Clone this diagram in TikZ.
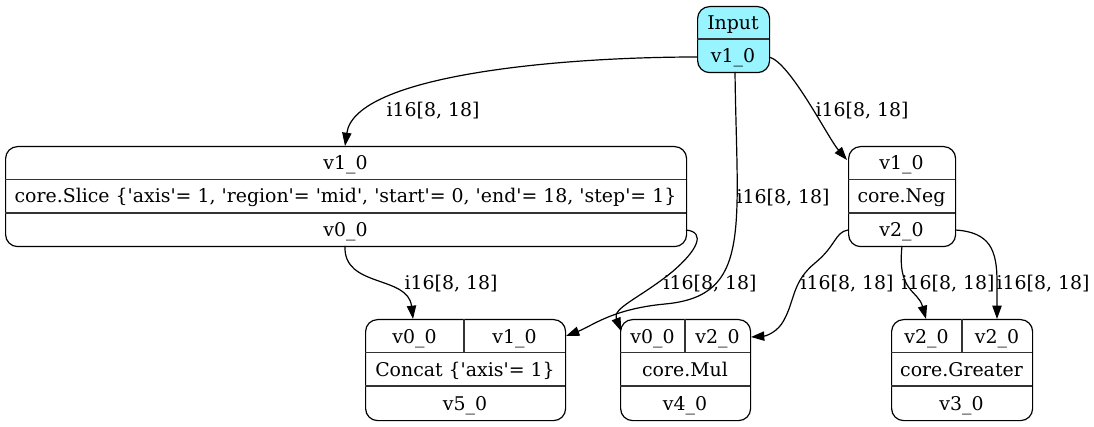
\documentclass[tikz,border=0pt]{standalone}
\usepackage{fontspec}
% a family without TeX ligatures, so that ' stays a straight quote
\newfontfamily\graphfont{DejaVu Serif}
\usetikzlibrary{arrows.meta}
\definecolor{inputfill}{RGB}{152,245,255}
\begin{document}
\begin{tikzpicture}[x=1pt,y=-1pt,
  rec/.style={draw, line width=1.2pt, rounded corners=12pt, inner sep=0pt, anchor=north west},
  txt/.style={inner sep=0pt, text height=14pt, text depth=0pt, font=\graphfont\fontsize{18.9}{21}\selectfont},
  sep/.style={line width=1.1pt, draw=black!80},
  edge/.style={-{Triangle[length=13.3pt,width=9.3pt]}, line width=1.2pt}]
\useasboundingbox (0,0) rectangle (1094,427);

% ---- Input ----
\node[rec, fill=inputfill, minimum width=72pt, minimum height=66pt] (input) at (697,6) {};
\draw[sep] (697,39) -- (769,39);
\node[txt] (input-t) at (733,22.5) {Input};
\node[txt] (input-o) at (733,55.5) {v1\_0};
\coordinate (input-l) at (697,57);
\coordinate (input-b) at (735,72);
\coordinate (input-r) at (769,57);

% ---- Slice ----
\node[rec, minimum width=681pt, minimum height=100pt] (slice) at (5,146) {};
\draw[sep] (5,179.5) -- (686,179.5) (5,213) -- (686,213);
\node[txt] (slice-i) at (345.5,162.5) {v1\_0};
\node[txt] (slice-op) at (345.5,196) {core.Slice \{'axis'= 1, 'region'= 'mid', 'start'= 0, 'end'= 18, 'step'= 1\}};
\node[txt] (slice-o) at (345.5,229.5) {v0\_0};
\coordinate (slice-t) at (345,146);
\coordinate (slice-b) at (345,246);
\coordinate (slice-r) at (686,230);

% ---- Neg ----
\node[rec, minimum width=107pt, minimum height=100pt] (neg) at (848,146) {};
\draw[sep] (848,179.5) -- (955,179.5) (848,213) -- (955,213);
\node[txt] (neg-i) at (901.5,162.5) {v1\_0};
\node[txt] (neg-op) at (901.5,196) {core.Neg};
\node[txt] (neg-o) at (901.5,229.5) {v2\_0};
\coordinate (neg-tl) at (847,160);
\coordinate (neg-l) at (848,230);
\coordinate (neg-b) at (902,246);
\coordinate (neg-r) at (955,230);

% ---- Concat ----
\node[rec, minimum width=200pt, minimum height=101pt] (concat) at (365,319) {};
\draw[sep] (365,352.5) -- (565,352.5) (365,386) -- (565,386) (464,319) -- (464,352.5);
\node[txt] (concat-a) at (414.5,336) {v0\_0};
\node[txt] (concat-b) at (514.5,336) {v1\_0};
\node[txt] (concat-op) at (465,369) {Concat \{'axis'= 1\}};
\node[txt] (concat-o) at (465,403) {v5\_0};
\coordinate (concat-t) at (413,319);
\coordinate (concat-r) at (566,336);

% ---- Mul ----
\node[rec, minimum width=130pt, minimum height=101pt] (mul) at (620,319) {};
\draw[sep] (620,352.5) -- (750,352.5) (620,386) -- (750,386) (685,319) -- (685,352.5);
\node[txt] (mul-a) at (652.5,336) {v0\_0};
\node[txt] (mul-b) at (717.5,336) {v2\_0};
\node[txt] (mul-op) at (685,369) {core.Mul};
\node[txt] (mul-o) at (685,403) {v4\_0};
\coordinate (mul-tl) at (621,331);
\coordinate (mul-r) at (751,337);

% ---- Greater ----
\node[rec, minimum width=141pt, minimum height=101pt] (greater) at (891,319) {};
\draw[sep] (891,352.5) -- (1032,352.5) (891,386) -- (1032,386) (962,319) -- (962,352.5);
\node[txt] (greater-a) at (926.5,336) {v2\_0};
\node[txt] (greater-b) at (997,336) {v2\_0};
\node[txt] (greater-op) at (961.5,369) {core.Greater};
\node[txt] (greater-o) at (961.5,403) {v3\_0};
\coordinate (greater-ta) at (926,319);
\coordinate (greater-tb) at (997,319);

% ---- connectors ----
\draw[edge] (input-l) .. controls (560,57) and (355,75) .. (slice-t);
\draw[edge] (input-b) .. controls (737,230) and (752,296) .. (665,304)
  .. controls (612,309) and (592,326) .. (concat-r);
\draw[edge] (input-r) .. controls (790,62) and (828,138) .. (neg-tl);
\draw[edge] (slice-b) .. controls (343,288) and (408,275) .. (concat-t);
\draw[edge] (slice-r) .. controls (706,232) and (698,250) .. (672,272)
  .. controls (640,298) and (612,308) .. (mul-tl);
\draw[edge] (neg-l) .. controls (835,232) and (836,246) .. (815,263)
  .. controls (792,282) and (795,300) .. (784,320)
  .. controls (778,332) and (766,336) .. (mul-r);
\draw[edge] (neg-b) .. controls (897,292) and (918,290) .. (greater-ta);
\draw[edge] (neg-r) .. controls (990,232) and (997,250) .. (997,282) -- (greater-tb);

% ---- edge labels ----
\node[txt] (l1) at (433,110) {i16[8, 18]};
\node[txt] (l2) at (783,197) {i16[8, 18]};
\node[txt] (l3) at (862,110) {i16[8, 18]};
\node[txt] (l4) at (451,283) {i16[8, 18]};
\node[txt] (l5) at (710,283) {i16[8, 18]};
\node[txt] (l6) at (847,283) {i16[8, 18]};
\node[txt] (l7) at (948,283) {i16[8, 18]};
\node[txt] (l8) at (1043,283) {i16[8, 18]};
\end{tikzpicture}
\end{document}
